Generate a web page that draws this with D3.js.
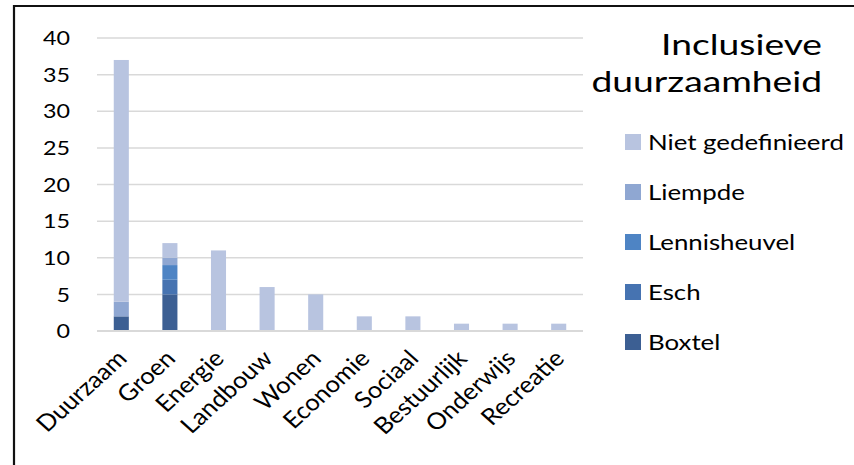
<!DOCTYPE html>
<html><head><meta charset="utf-8">
<script src="https://cdn.jsdelivr.net/npm/d3@7"></script>
<style>body{margin:0;background:#fff}svg{display:block}text{font-family:Lato,"Open Sans",sans-serif}</style>
</head><body>
<svg id="c" width="854" height="465"></svg>
<script>
const categories = ["Duurzaam","Groen","Energie","Landbouw","Wonen","Economie","Sociaal","Bestuurlijk","Onderwijs","Recreatie"];
const seriesNames = ["Boxtel","Esch","Lennisheuvel","Liempde","Niet gedefinieerd"];
const boxtel      = [2,5,0,0,0,0,0,0,0,0];
const esch        = [0,2,0,0,0,0,0,0,0,0];
const lennisheuvel= [0,2,0,0,0,0,0,0,0,0];
const liempde     = [2,1,0,0,0,0,0,0,0,0];
const nietGedef   = [33,2,11,6,5,2,2,1,1,1];
const yTicks = [0,5,10,15,20,25,30,35,40];
const titleLines = ["Inclusieve","duurzaamheid"];
const colors = ["#3c5f93","#4673b1","#4e84c4","#8fa7d2","#b8c4e0"];

const seriesValues = [boxtel, esch, lennisheuvel, liempde, nietGedef];
const rows = categories.map((c,i)=>{const r={cat:c}; seriesNames.forEach((s,j)=>r[s]=seriesValues[j][i]); return r;});
const stacked = d3.stack().keys(seriesNames)(rows);

const svg = d3.select("#c");
const x = d3.scaleBand().domain(categories).range([97,583]).paddingInner(0.69).paddingOuter(0.345);
const y = d3.scaleLinear().domain([0,40]).range([331,38]);

// frame
svg.append("path").attr("d","M14,470V6H860").attr("fill","none").attr("stroke","#111").attr("stroke-width",2.2);

// gridlines
svg.append("g").selectAll("line").data(yTicks.filter(t=>t>0)).join("line")
  .attr("x1",97).attr("x2",583).attr("y1",d=>y(d)).attr("y2",d=>y(d))
  .attr("stroke","#d9d9d9").attr("stroke-width",1.5);

// y axis labels
const ya = svg.append("g").attr("transform","translate(70,0)")
  .call(d3.axisLeft(y).tickValues(yTicks).tickSize(0).tickPadding(0));
ya.select(".domain").remove();
ya.selectAll("text").attr("font-size",18.5).attr("fill","#000").style("font-family","Lato, sans-serif")
  .attr("x",0).attr("dy","0.36em").attr("text-anchor","end")
  .attr("transform","scale(1.26,1)");

// bars
svg.append("g").selectAll("g").data(stacked).join("g")
  .attr("fill",(d,i)=>colors[i])
  .selectAll("rect").data(d=>d).join("rect")
  .attr("x",d=>x(d.data.cat)).attr("width",x.bandwidth())
  .attr("y",d=>y(d[1])).attr("height",d=>y(d[0])-y(d[1]));

// x axis line
svg.append("line").attr("x1",97).attr("x2",583).attr("y1",y(0)).attr("y2",y(0))
  .attr("stroke","#d9d9d9").attr("stroke-width",2);

// x labels
const xa = svg.append("g").attr("transform",`translate(0,${y(0)})`)
  .call(d3.axisBottom(x).tickSize(0).tickPadding(0));
xa.select(".domain").remove();
xa.selectAll("text").attr("font-size",23).attr("fill","#000").style("font-family","Lato, sans-serif")
  .attr("text-anchor","end").attr("dy",0).attr("y",0)
  .attr("transform","translate(7,29) scale(1.11,1) rotate(-45)");

// title
svg.append("g").selectAll("text").data(titleLines).join("text")
  .attr("transform",(d,i)=>`translate(822,${55+i*37}) scale(1.33,1)`).attr("text-anchor","end")
  .attr("font-size",28).attr("fill","#000").text(d=>d);

// legend
const legendOrder = ["Niet gedefinieerd","Liempde","Lennisheuvel","Esch","Boxtel"];
const lg = svg.append("g").selectAll("g").data(legendOrder).join("g")
  .attr("transform",(d,i)=>`translate(625,${142+i*50})`);
lg.append("rect").attr("x",0).attr("y",-8).attr("width",16).attr("height",16)
  .attr("fill",d=>colors[seriesNames.indexOf(d)]);
lg.append("text").attr("transform","translate(23,0) scale(1.23,1)").attr("dy","0.36em")
  .attr("font-size",21).attr("fill","#000").text(d=>d);
</script>
</body></html>
